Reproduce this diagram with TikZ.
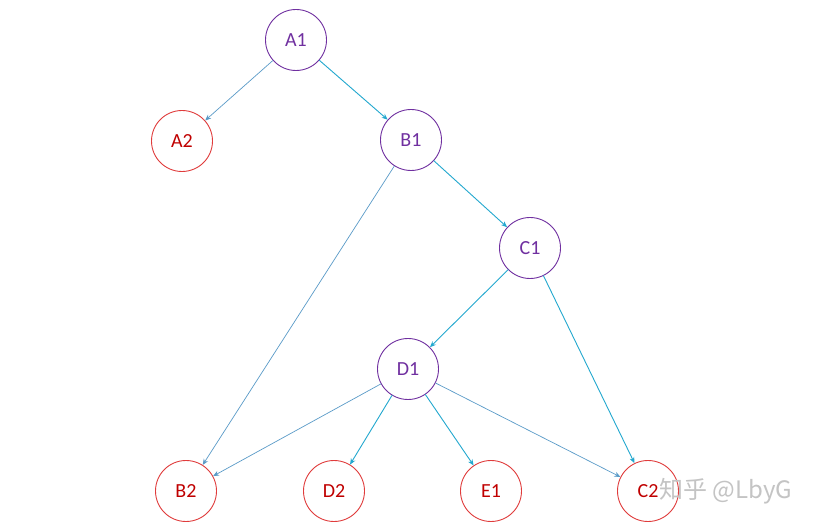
\documentclass[tikz,border=0pt]{standalone}
\usepackage{fontspec}
\setmainfont{Carlito}
\newfontfamily\cjk{Noto Sans CJK SC}
\usetikzlibrary{arrows.meta}
\definecolor{treePurple}{HTML}{7030A0}
\definecolor{treeRed}{HTML}{C00000}
\definecolor{treeRing}{HTML}{E03C3C}
\definecolor{treeCyan}{HTML}{23A8CF}
\definecolor{treeSteel}{HTML}{5A9BC8}
\definecolor{treeMark}{HTML}{C4C4C4}

\begin{document}
\begin{tikzpicture}[x=1pt,y=-1pt,>={Stealth[length=6pt,width=5pt]},line cap=round,line join=round]
\path[fill=white] (0,0) rectangle (820,529);
\tikzset{inner/.style={circle,draw=treePurple,text=treePurple,line width=0.9pt,minimum size=61pt,inner sep=0pt,font=\fontsize{20}{22}\selectfont},leaf/.style={circle,draw=treeRing,text=treeRed,line width=0.9pt,minimum size=61pt,inner sep=0pt,font=\fontsize{20}{22}\selectfont},main/.style={->,draw=treeCyan,line width=0.9pt},side/.style={->,draw=treeSteel,line width=0.7pt}}
% nodes
\node[inner] (a1) at (296,40) {A1};
\node[leaf] (a2) at (182,141) {A2};
\node[inner] (b1) at (411,140) {B1};
\node[inner] (c1) at (530,248) {C1};
\node[inner] (d1) at (408,369) {D1};
\node[leaf] (b2) at (186,491) {B2};
\node[leaf] (d2) at (334,491) {D2};
\node[leaf] (e1) at (491,491) {E1};
\node[leaf] (c2) at (648,491) {C2};
% edges
\draw[side] (a1) -- (a2);
\draw[main] (a1) -- (b1);
\draw[side] (b1) -- (b2);
\draw[main] (b1) -- (c1);
\draw[main] (c1) -- (d1);
\draw[main] (c1) -- (c2);
\draw[side] (d1) -- (b2);
\draw[main] (d1) -- (d2);
\draw[main] (d1) -- (e1);
\draw[side] (d1) -- (c2);
% watermark
\node[text=treeMark,font=\cjk\fontsize{24}{26}\selectfont,anchor=west,inner sep=0pt] (mark) at (659,491) {知乎 @LbyG};
\end{tikzpicture}
\end{document}
